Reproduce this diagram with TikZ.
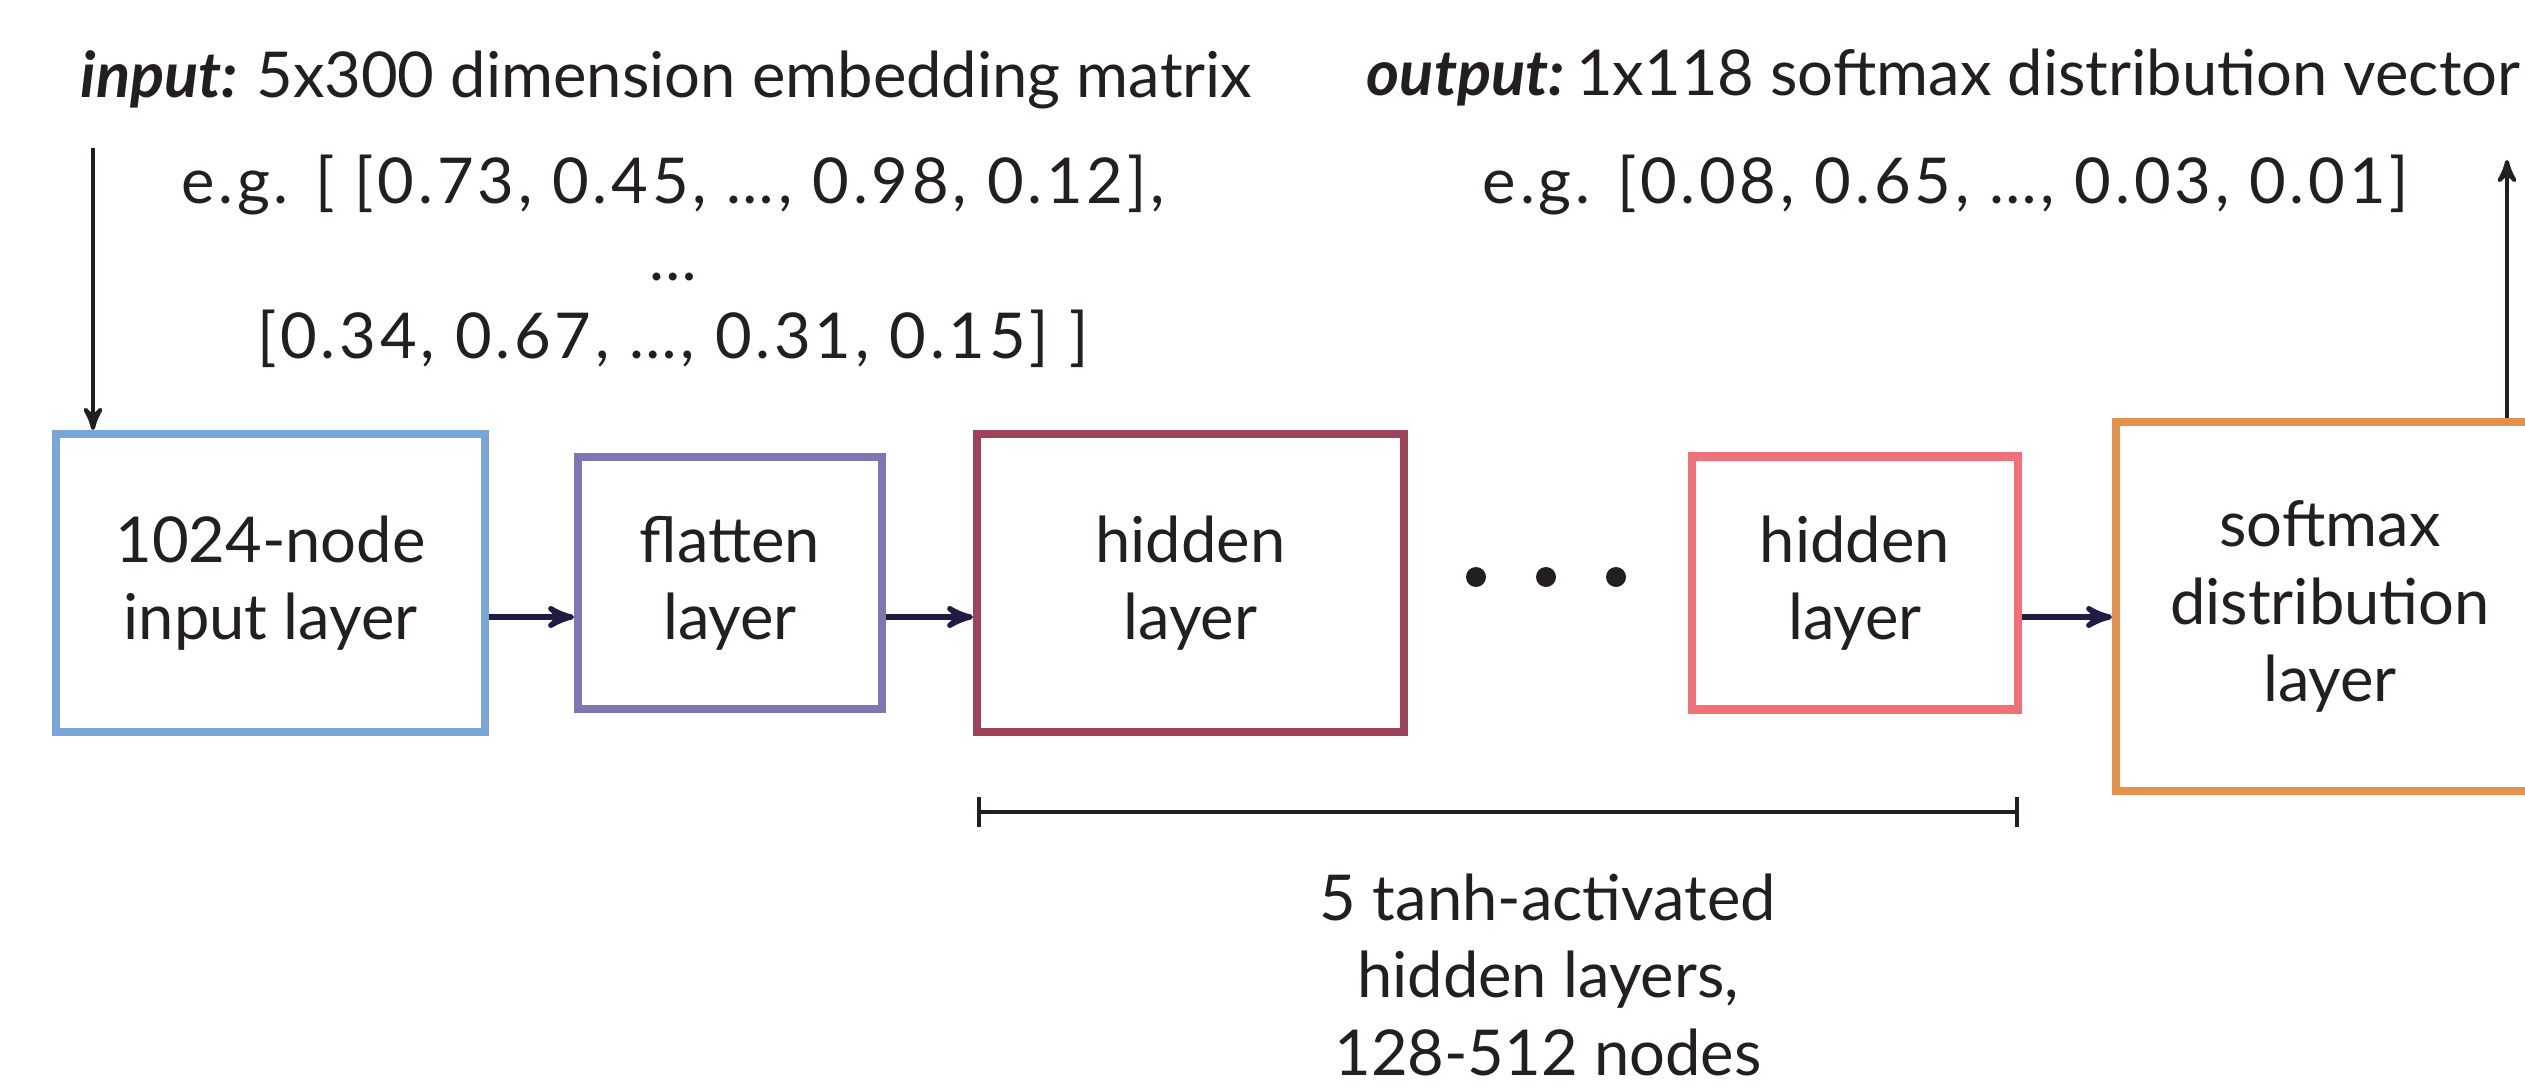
\documentclass[tikz,border=0pt]{standalone}
\usepackage{fontspec}
\setmainfont{Lato}
\usetikzlibrary{positioning}
\usetikzlibrary{arrows}
\definecolor{inblue}{HTML}{79A6D7}
\definecolor{flpurple}{HTML}{7F78B0}
\definecolor{hidred}{HTML}{9F435A}
\definecolor{hidpink}{HTML}{F07077}
\definecolor{smorange}{HTML}{E3914F}
\definecolor{arrnavy}{HTML}{211A44}
\definecolor{txtblack}{HTML}{231F20}
\tikzset{>=stealth'}
\tikzset{layer/.style={draw, line width=2.3pt, align=center, inner sep=0pt, fill=white}}
\tikzset{flow/.style={->, line width=1.5pt, draw=arrnavy}}
\tikzset{io/.style={->, line width=1.2pt, draw=txtblack}}
\tikzset{lbl/.style={inner sep=0pt, align=center}}
\tikzset{vals/.style={lbl, font=\fontsize{18}{22}\selectfont\addfontfeature{LetterSpace=6}}}

\begin{document}
\begin{tikzpicture}[font=\fontsize{18}{22}\selectfont, text=txtblack]
\useasboundingbox (0,0) rectangle (25.25,10.84);

\node (in) [layer, draw=inblue, minimum width=4.29cm, minimum height=2.98cm] at (2.705, 5.01) {1024-node\\input layer};
\node (fl) [layer, draw=flpurple, minimum width=3.04cm, minimum height=2.52cm] at (7.30, 5.01) {flatten\\layer};
\node (h1) [layer, draw=hidred, minimum width=4.27cm, minimum height=2.98cm] at (11.905, 5.01) {hidden\\layer};
\node (h2) [layer, draw=hidpink, minimum width=3.26cm, minimum height=2.53cm] at (18.55, 5.01) {hidden\\layer};
\node (sm) [layer, draw=smorange, minimum width=4.28cm, minimum height=3.69cm] at (23.30, 4.775) {softmax\\distribution\\layer};

\foreach \x in {14.76, 15.46, 16.16}
  \fill[txtblack] (\x, 5.07) circle (0.10);

\draw[flow] ([yshift=-0.34cm]in.east) -- ([yshift=-0.34cm]in.east -| fl.west);
\draw[flow] ([yshift=-0.34cm]fl.east) -- ([yshift=-0.34cm]fl.east -| h1.west);
\draw[flow] ([yshift=-0.34cm]h2.east) -- ([yshift=-0.34cm]h2.east -| sm.west);

% input and output
\node (intitle) [lbl, anchor=base west] at (0.80, 9.87) {\textbf{\textit{input:}}\hspace{-1pt} 5x300 dimension embedding matrix};
\node (inval) [vals, anchor=base] at (6.73, 7.26) {e.g. [ [0.73, 0.45, …, 0.98, 0.12],\\…\\{}[0.34, 0.67, …, 0.31, 0.15] ]};
\node (outtitle) [lbl, anchor=base west] at (13.66, 9.89) {\textbf{\textit{output:}}\hspace{-3pt} 1x118 softmax distribution vector};
\node (outval) [vals, anchor=base] at (19.46, 8.81) {e.g. [0.08, 0.65, …, 0.03, 0.01]};

\coordinate (inlead) at (0.93, 9.36);
\coordinate (outlead) at (25.07, 9.24);
\draw[io] (inlead) -- (inlead |- in.north);
\draw[io] (outlead |- sm.north) -- (outlead);

% span of the hidden layers
\coordinate (brl) at (9.77, 2.72);
\coordinate (brr) at (20.19, 2.72);
\draw[|-|, line width=1.1pt, draw=txtblack] (brl) -- (brr);
\node (brtext) [lbl, anchor=base] at (15.48, 0.09) {5 tanh-activated\\hidden layers,\\128-512 nodes};
\end{tikzpicture}
\end{document}
